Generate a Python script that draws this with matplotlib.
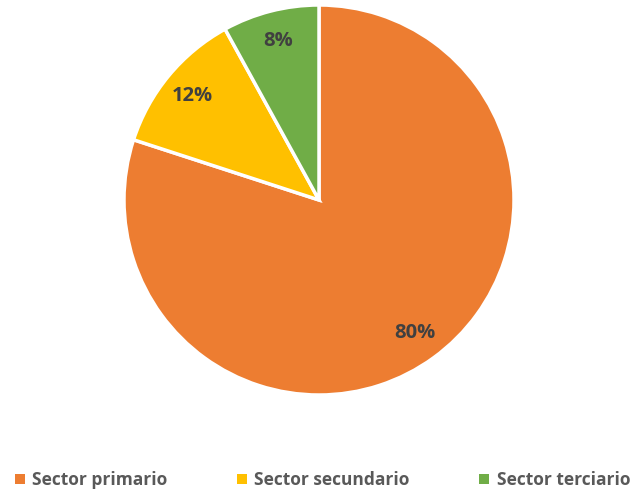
import matplotlib.pyplot as plt
from matplotlib.patches import Patch

labels = ['Sector primario', 'Sector secundario', 'Sector terciario']
values = [80, 12, 8]
colors = ['#ED7D31', '#FFC000', '#70AD47']

plt.rcParams['font.family'] = ['Open Sans', 'DejaVu Sans']

fig = plt.figure(figsize=(6.33, 4.93), dpi=100)
# pie axis placed in pixels: center (319,200), radius ~195
W, H = 633, 493
r = 195
ax = fig.add_axes([(319 - r) / W, 1 - (200 + r) / H, 2 * r / W, 2 * r / H])

wedges, texts, autotexts = ax.pie(
    values, colors=colors, startangle=90, counterclock=False,
    autopct='%1.0f%%', pctdistance=0.84, radius=1,
    wedgeprops=dict(edgecolor='white', linewidth=2.5),
    textprops=dict(color='#404040', fontsize=14.5, fontweight='bold'))
ax.set_xlim(-1, 1)
ax.set_ylim(-1, 1)
ax.set_aspect('equal')

handles = [Patch(facecolor=c, edgecolor='none') for c in colors]
fig.legend(handles, labels, loc='center', bbox_to_anchor=(322.5 / W, 1 - 480 / H),
           ncol=3, frameon=False, handlelength=0.55, handleheight=0.55,
           handletextpad=0.45, columnspacing=4.0,
           prop=dict(family=['Open Sans', 'DejaVu Sans'], size=12.5, weight='bold'),
           labelcolor='#595959')

fig.savefig('out.png', dpi=100, facecolor='white')
